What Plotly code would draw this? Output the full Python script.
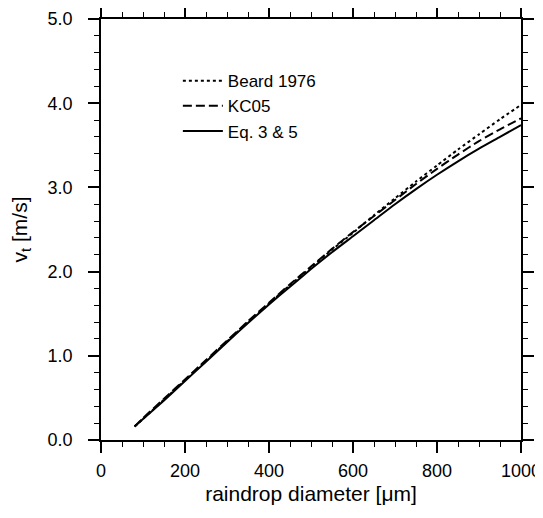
import plotly.graph_objects as go

diameter = [80, 100, 150, 200, 250, 300, 350, 400, 450, 500, 550, 600, 650, 700, 750, 800, 850, 900, 950, 1000]
beard_1976 = [0.16, 0.25, 0.48, 0.71, 0.94, 1.17, 1.40, 1.62, 1.84, 2.05, 2.26, 2.46, 2.67, 2.87, 3.07, 3.26, 3.45, 3.63, 3.81, 3.98]
kc05 = [0.16, 0.26, 0.49, 0.72, 0.95, 1.18, 1.41, 1.63, 1.85, 2.06, 2.27, 2.47, 2.66, 2.85, 3.04, 3.22, 3.39, 3.55, 3.69, 3.82]
eq_3_5 = [0.16, 0.25, 0.47, 0.70, 0.93, 1.16, 1.39, 1.61, 1.82, 2.03, 2.23, 2.42, 2.61, 2.80, 2.98, 3.15, 3.31, 3.46, 3.60, 3.74]
names = ["Beard 1976", "KC05", "Eq. 3 &amp; 5"]
x_range = [0, 1000]
y_range = [0, 5]

fig = go.Figure()
for ys, nm, dash in zip([beard_1976, kc05, eq_3_5], names, ["3px,3px", "9px,4px", "solid"]):
    fig.add_trace(go.Scatter(x=diameter, y=ys, mode="lines", name=nm,
                             line=dict(color="black", width=2, dash=dash, shape="spline", smoothing=0.6)))
# invisible trace to carry the mirrored (top/right) tick axes
fig.add_trace(go.Scatter(x=x_range, y=y_range, xaxis="x2", yaxis="y2", mode="lines",
                         line=dict(width=0), showlegend=False, hoverinfo="skip"))

font = "Liberation Sans, Arial, Helvetica, sans-serif"
common = dict(showgrid=False, zeroline=False, showline=True, linecolor="black", linewidth=1.5,
              ticks="outside", ticklen=11, tickwidth=1.5, tickcolor="black", automargin=False,
              tickfont=dict(family=font, size=18, color="black"))
xminor = dict(dtick=50, tick0=0, ticks="outside", ticklen=5, tickwidth=1, tickcolor="black")
yminor = dict(dtick=0.2, tick0=0, ticks="outside", ticklen=5, tickwidth=1, tickcolor="black")

fig.update_layout(
    width=535, height=502, margin=dict(l=93, r=22, t=11, b=70),
    plot_bgcolor="white", paper_bgcolor="white",
    xaxis=dict(range=x_range, tickmode="linear", tick0=0, dtick=200, minor=xminor,
               ticklabelstandoff=3,
               title=dict(text="raindrop diameter [μm]", font=dict(family=font, size=21, color="black"), standoff=6),
               **common),
    yaxis=dict(range=y_range, tickmode="linear", tick0=0, dtick=1, tickformat=".1f", minor=yminor,
               ticklabelstandoff=12,
               title=dict(text="v<sub>t</sub> [m/s]", font=dict(family=font, size=21, color="black"), standoff=18),
               **common),
    xaxis2=dict(range=x_range, overlaying="x", side="top", anchor="y2", tickmode="linear", tick0=0, dtick=200,
                minor=xminor, showticklabels=False, **common),
    yaxis2=dict(range=y_range, overlaying="y", side="right", anchor="x2", tickmode="linear", tick0=0, dtick=1,
                minor=yminor, showticklabels=False, **common),
    legend=dict(x=0.183, y=0.895, xanchor="left", yanchor="top", bgcolor="rgba(0,0,0,0)",
                font=dict(family=font, size=17, color="black"), tracegroupgap=0, itemwidth=40),
)
fig.write_html("out.html")
